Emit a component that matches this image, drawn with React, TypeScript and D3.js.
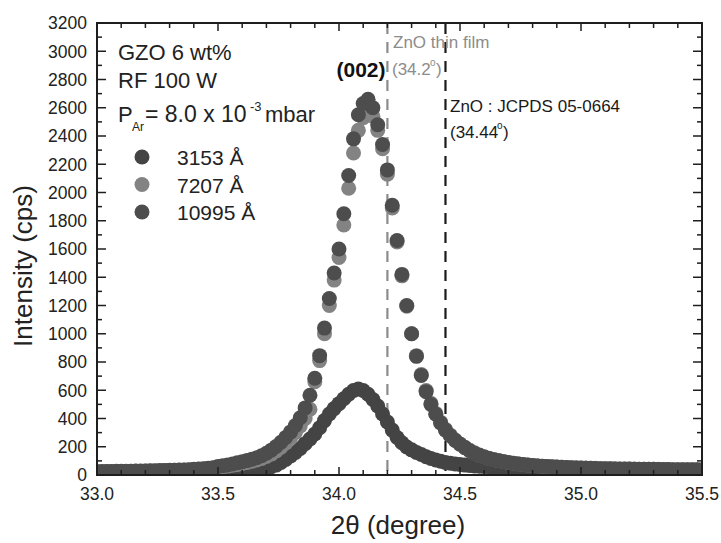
import React from "react";
import * as d3 from "d3";

// ---- data (2θ grid: 33.00 → 35.50, step 0.02) ----
const X_START = 33.0;
const X_STEP = 0.02;

// 3153 Å (small peak)
const s3153: number[] = [
  20, 20, 21, 21, 21, 22, 22, 22, 23, 23, 23, 24, 24, 25, 25, 26, 26, 27, 27, 28, 29, 29, 30, 31, 32,
  33, 34, 35, 36, 38, 39, 41, 43, 45, 48, 52, 58, 70, 88, 110, 135, 160, 188, 222, 255, 290, 335, 385, 432, 470,
  505, 540, 572, 598, 608, 598, 572, 535, 488, 432, 375, 318, 265, 228, 198, 178, 160, 145, 130, 117, 106, 97, 89, 83, 78,
  74, 70, 67, 64, 62, 60, 58, 57, 55, 54, 53, 52, 51, 50, 49, 48, 47, 46, 46, 45, 44, 44, 43, 42, 42,
  41, 41, 40, 40, 39, 39, 38, 38, 37, 37, 36, 36, 36, 35, 35, 35, 34, 34, 34, 33, 33, 33, 33, 32, 32, 32,
];

// 7207 Å (light grey)
const s7207: number[] = [
  22, 23, 23, 24, 24, 25, 25, 26, 26, 27, 28, 28, 29, 30, 31, 32, 33, 34, 35, 36, 38, 40, 43, 46, 50,
  54, 58, 63, 69, 75, 82, 89, 97, 106, 117, 131, 148, 170, 196, 227, 262, 302, 348, 400, 465, 660, 810, 1000, 1200, 1380,
  1540, 1770, 2030, 2280, 2440, 2530, 2560, 2540, 2440, 2310, 2130, 1890, 1650, 1410, 1195, 1000, 845, 712, 598, 508, 436, 374, 323, 282, 248,
  220, 196, 175, 157, 141, 129, 119, 110, 102, 95, 89, 84, 79, 75, 71, 68, 65, 62, 60, 58, 56, 55, 53, 52, 51,
  50, 49, 48, 47, 46, 45, 44, 44, 43, 43, 42, 42, 41, 41, 40, 40, 40, 39, 39, 38, 38, 38, 37, 37, 37, 36,
];

// 10995 Å (dark grey)
const s10995: number[] = [
  24, 24, 25, 25, 26, 26, 27, 27, 28, 28, 29, 30, 30, 31, 32, 33, 34, 35, 36, 38, 40, 42, 45, 48, 52,
  60, 65, 71, 78, 86, 94, 102, 111, 122, 136, 154, 176, 202, 232, 266, 305, 350, 405, 475, 565, 685, 845, 1040, 1250, 1430,
  1600, 1850, 2120, 2380, 2550, 2630, 2660, 2600, 2480, 2340, 2160, 1910, 1660, 1420, 1200, 1000, 840, 705, 590, 500, 430, 368, 318, 278, 245,
  218, 194, 172, 154, 139, 127, 117, 108, 101, 94, 88, 83, 78, 74, 70, 67, 64, 62, 60, 58, 56, 54, 53, 51, 50,
  49, 48, 47, 46, 45, 45, 44, 43, 43, 42, 42, 41, 41, 40, 40, 40, 39, 39, 39, 38, 38, 38, 37, 37, 37, 37,
];

const seriesNames = ["3153 Å", "7207 Å", "10995 Å"];
const seriesColors = ["#444444", "#838383", "#4d4d4d"];
const seriesData = [s3153, s7207, s10995];
const drawOrder = [0, 1, 2];

const xTickLabels = ["33.0", "33.5", "34.0", "34.5", "35.0", "35.5"];
const yTickValues = [0, 200, 400, 600, 800, 1000, 1200, 1400, 1600, 1800, 2000, 2200, 2400, 2600, 2800, 3000, 3200];

const refLines = [
  { x: 34.2, color: "#8c8c8c" },
  { x: 34.44, color: "#1a1a1a" },
];

const FONT = "'Liberation Sans', Arial, Helvetica, sans-serif";

export default function App() {
  const W = 721, H = 543;
  const L = 97, R = 702, T = 23, B = 475;
  const x = d3.scaleLinear().domain([33.0, 35.5]).range([L, R]);
  const y = d3.scaleLinear().domain([0, 3200]).range([B, T]);

  const minorX = d3.range(0, 26).map((i) => 33.0 + i * 0.1);
  const minorY = d3.range(0, 33).map((i) => i * 100);
  const axisColor = "#1e1e1e";

  return (
    <svg
      width={W}
      height={H}
      style={{ position: "absolute", left: 0, top: 0, background: "#fff" }}
      fontFamily={FONT}
    >
      <defs>
        <clipPath id="plotclip">
          <rect x={L} y={T} width={R - L} height={B - T} />
        </clipPath>
      </defs>

      {/* reference lines */}
      {refLines.map((r, i) => (
        <line
          key={i}
          x1={x(r.x)}
          x2={x(r.x)}
          y1={T}
          y2={B}
          stroke={r.color}
          strokeWidth={2.2}
          strokeDasharray="11,8"
        />
      ))}

      {/* data */}
      <g clipPath="url(#plotclip)">
        {drawOrder.map((si) => (
          <g key={si} fill={seriesColors[si]}>
            {seriesData[si].map((v, i) => (
              <circle key={i} cx={x(X_START + i * X_STEP)} cy={y(v)} r={7.5} />
            ))}
          </g>
        ))}
      </g>

      {/* frame */}
      <rect x={L} y={T} width={R - L} height={B - T} fill="none" stroke={axisColor} strokeWidth={2} />

      {/* x ticks (bottom & top, inward) */}
      {minorX.map((v, i) => {
        const major = i % 5 === 0;
        const len = major ? 8 : 5;
        return (
          <g key={i} stroke={axisColor} strokeWidth={1.5}>
            <line x1={x(v)} x2={x(v)} y1={B} y2={B - len} />
            <line x1={x(v)} x2={x(v)} y1={T} y2={T + len} />
          </g>
        );
      })}
      {/* y ticks (left & right, inward) */}
      {minorY.map((v, i) => {
        const major = i % 2 === 0;
        const len = major ? 9 : 5;
        return (
          <g key={i} stroke={axisColor} strokeWidth={1.5}>
            <line x1={L} x2={L + len} y1={y(v)} y2={y(v)} />
            <line x1={R} x2={R - len} y1={y(v)} y2={y(v)} />
          </g>
        );
      })}

      {/* tick labels */}
      {xTickLabels.map((t) => (
        <text key={t} x={x(+t)} y={500} textAnchor="middle" fontSize={17.5} fill="#222">
          {t}
        </text>
      ))}
      {yTickValues.map((v) => (
        <text key={v} x={87} y={y(v)} dy="0.36em" textAnchor="end" fontSize={17.5} fill="#222">
          {v}
        </text>
      ))}

      {/* axis titles */}
      <text x={398} y={534} textAnchor="middle" fontSize={26} fill="#222">
        2θ (degree)
      </text>
      <text
        transform={`translate(32,266) rotate(-90)`}
        textAnchor="middle"
        fontSize={26}
        fill="#222"
      >
        Intensity (cps)
      </text>

      {/* annotations */}
      <g fill="#222" fontSize={22}>
        <text x={118} y={60}>GZO 6 wt%</text>
        <text x={118} y={88}>RF 100 W</text>
        <text>
          <tspan x={118} y={122}>P</tspan>
          <tspan x={132} y={131} fontSize={12}>Ar</tspan>
        </text>
        <text fontSize={23}>
          <tspan x={145} y={122}>= 8.0 x 10</tspan>
          <tspan x={250} y={111} fontSize={13}>-3</tspan>
          <tspan x={265} y={122} fontSize={22}>mbar</tspan>
        </text>
      </g>

      {/* legend */}
      {seriesNames.map((n, i) => (
        <g key={n}>
          <circle cx={142} cy={157 + i * 27.5} r={7.5} fill={seriesColors[i]} />
          <text x={177} y={165 + i * 27.5} fontSize={21} fill="#222">
            {n}
          </text>
        </g>
      ))}

      <text x={361} y={77} textAnchor="middle" fontSize={21} fontWeight="bold" fill="#111">
        (002)
      </text>

      <g fill="#8c8c8c" fontSize={17}>
        <text x={393} y={48}>ZnO thin film</text>
        <text>
          <tspan x={392} y={75}>(34.2</tspan>
          <tspan x={430} y={66} fontSize={10}>o</tspan>
          <tspan x={436} y={75}>)</tspan>
        </text>
      </g>

      <g fill="#1a1a1a" fontSize={17}>
        <text x={450} y={112}>ZnO : JCPDS 05-0664</text>
        <text>
          <tspan x={450} y={138}>(34.44</tspan>
          <tspan x={497} y={129} fontSize={10}>o</tspan>
          <tspan x={503} y={138}>)</tspan>
        </text>
      </g>
    </svg>
  );
}
